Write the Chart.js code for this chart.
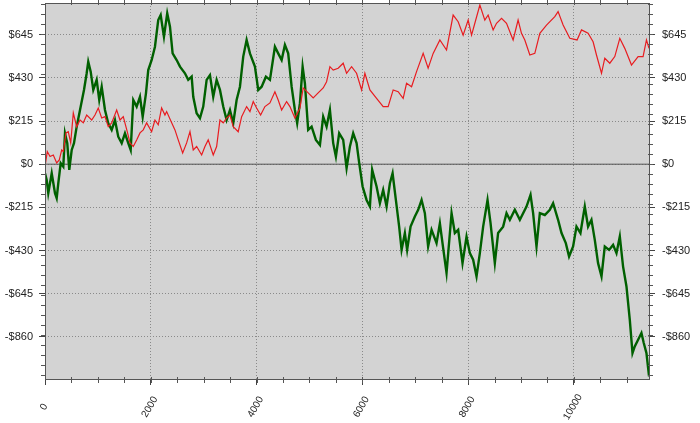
<!DOCTYPE html>
<html>
<head>
<meta charset="utf-8">
<script src="https://cdn.jsdelivr.net/npm/chart.js@4"></script>
<style>
  html, body { margin: 0; padding: 0; background: #fff; }
  #wrap { width: 700px; height: 423px; }
</style>
</head>
<body>
<div id="wrap"><canvas id="grafico"></canvas></div>
<script>
// datos
const redX = [0,43,95,157,221,270,316,346,397,440,486,535,599,662,724,788,883,945,1007,1072,1134,1196,1261,1355,1418,1480,1555,1607,1669,1733,1796,1858,1922,2016,2079,2141,2205,2268,2300,2395,2457,2519,2603,2678,2741,2803,2867,2962,3024,3086,3181,3245,3308,3370,3434,3497,3559,3653,3718,3812,3875,3937,4001,4077,4158,4253,4347,4409,4474,4568,4631,4725,4820,4882,4976,5071,5165,5260,5324,5387,5449,5543,5638,5702,5797,5891,5986,6048,6143,6269,6394,6488,6583,6677,6772,6836,6931,7025,7150,7244,7339,7466,7592,7717,7812,7906,8001,8065,8127,8222,8316,8378,8473,8537,8632,8726,8851,8945,9009,9072,9167,9261,9356,9482,9639,9701,9796,9923,10060,10144,10268,10363,10427,10522,10584,10679,10773,10868,10962,11089,11214,11308,11372,11421];
const redY = [-12,63,38,46,6,21,71,63,156,162,106,255,187,220,206,245,220,245,280,230,237,187,206,270,220,237,162,106,88,121,156,171,206,162,220,196,280,245,262,206,171,121,56,106,162,71,88,46,88,121,46,88,220,206,230,245,187,162,237,287,262,312,280,245,287,305,361,320,270,312,287,230,280,380,355,330,355,380,411,486,469,478,503,453,486,453,370,453,370,328,287,287,370,361,328,403,386,461,552,478,552,619,569,743,710,643,718,643,702,793,718,743,669,702,727,702,619,718,652,619,544,552,652,693,735,760,693,627,619,669,652,610,544,453,528,503,536,627,577,494,536,536,619,577];

const greenX = [0,32,62,127,189,221,251,297,346,378,421,459,505,548,599,662,737,788,818,864,913,977,1026,1072,1134,1196,1261,1323,1385,1450,1512,1574,1620,1669,1733,1796,1847,1909,1952,2017,2079,2141,2187,2249,2311,2363,2413,2489,2552,2646,2708,2773,2803,2867,2930,2992,3056,3119,3181,3245,3308,3370,3434,3497,3559,3623,3686,3748,3812,3875,3969,4032,4096,4177,4253,4347,4409,4474,4536,4598,4663,4725,4768,4820,4871,4914,4976,5041,5122,5198,5260,5324,5387,5449,5500,5562,5638,5702,5765,5827,5891,5941,6005,6080,6143,6186,6269,6332,6394,6458,6521,6572,6634,6696,6742,6804,6847,6912,6993,7056,7120,7182,7244,7309,7403,7466,7541,7592,7687,7749,7812,7894,7970,8033,8095,8159,8222,8284,8367,8424,8505,8567,8662,8726,8789,8883,8978,9104,9180,9229,9293,9356,9450,9545,9607,9701,9766,9847,9909,9985,10049,10124,10206,10268,10332,10395,10457,10522,10584,10665,10741,10805,10868,10930,10994,11057,11108,11151,11214,11277,11321,11372,11421];
const greenY = [-45,-78,-144,-45,-144,-169,-95,5,-12,154,105,-28,71,105,187,270,370,453,511,461,370,420,320,386,270,204,171,220,137,105,154,105,71,320,287,336,237,353,469,519,585,718,743,635,752,685,552,519,486,453,420,436,336,254,229,287,420,444,336,420,370,287,220,270,204,320,386,536,619,552,486,370,386,436,420,585,552,519,594,552,386,270,204,304,486,403,171,187,121,96,237,187,270,105,38,154,121,-20,88,154,105,5,-111,-178,-211,-28,-111,-194,-128,-211,-95,-45,-178,-311,-427,-343,-427,-311,-261,-227,-178,-244,-410,-327,-393,-294,-443,-542,-244,-343,-327,-493,-361,-443,-476,-559,-443,-311,-178,-294,-493,-343,-311,-244,-277,-227,-277,-211,-153,-244,-410,-244,-253,-227,-194,-277,-343,-393,-460,-410,-311,-343,-211,-311,-277,-377,-493,-559,-410,-427,-402,-443,-360,-510,-609,-775,-941,-908,-874,-841,-891,-941,-1057];

const ceroX = [0, 11420];
const ceroY = [0, 0];

const yTicks = [-860, -645, -430, -215, 0, 215, 430, 645];
const xTicks = [0, 2000, 4000, 6000, 8000, 10000];

const yMin = -1070, yMax = 803;
const xMin = 0, xMax = 11420;

function puntos(xs, ys) {
    return xs.map((x, i) => ({ x: x, y: ys[i] }));
}

function dinero(v) {
    return v < 0 ? '-$' + Math.abs(v) : '$' + v;
}

//fondo gris, marcas menores y etiquetas x giradas
const fondoPlugin = {
    id: 'fondo',
    beforeDraw(chart) {
        const a = chart.chartArea;
        const ctx = chart.ctx;
        ctx.save();
        ctx.fillStyle = '#d3d3d3';
        ctx.fillRect(a.left, a.top, a.right - a.left, a.bottom - a.top);
        ctx.restore();
    },
    afterDraw(chart) {
        const a = chart.chartArea;
        const ctx = chart.ctx;
        const ys = chart.scales.y;
        const xs = chart.scales.x;
        ctx.save();
        ctx.strokeStyle = '#555';
        ctx.lineWidth = 1;
        ctx.beginPath();
        for (let v = -1050; v <= yMax; v += 50) {
            const py = Math.round(ys.getPixelForValue(v)) + 0.5;
            ctx.moveTo(a.left - 4, py); ctx.lineTo(a.left + 1, py);
            ctx.moveTo(a.right - 1, py); ctx.lineTo(a.right + 4, py);
        }
        for (let v = 500; v <= xMax; v += 500) {
            const px = Math.round(xs.getPixelForValue(v)) + 0.5;
            ctx.moveTo(px, a.bottom - 2); ctx.lineTo(px, a.bottom + 4);
            ctx.moveTo(px, a.top - 3); ctx.lineTo(px, a.top + 2);
        }
        ctx.stroke();
        ctx.strokeRect(Math.round(a.left) + 0.5, Math.round(a.top) + 0.5,
            Math.round(a.right - a.left), Math.round(a.bottom - a.top));

        //etiquetas del eje x
        ctx.fillStyle = '#222';
        ctx.font = '10px "Liberation Sans", Arial, sans-serif';
        ctx.textAlign = 'center';
        ctx.textBaseline = 'middle';
        xTicks.forEach(v => {
            const px = xs.getPixelForValue(v) - 1;
            ctx.save();
            ctx.translate(px, a.bottom + 28);
            ctx.rotate(-Math.PI / 3);
            ctx.fillText(String(v), 0, 0);
            ctx.restore();
        });
        ctx.restore();
    }
};

const fuente = { family: 'Liberation Sans, Arial, sans-serif', size: 11 };

const ctx = document.getElementById('grafico').getContext('2d');

function sinRelleno(s) {
    s.paddingTop = 0;
    s.paddingBottom = 0;
    s.paddingLeft = 0;
    s.paddingRight = 0;
}

const config = {
    type: 'line',
    data: {
        datasets: [
            {
                data: puntos(redX, redY),
                borderColor: 'rgb(232,28,32)',
                borderWidth: 1.2,
                pointRadius: 0,
                tension: 0,
            },
            {
                data: puntos(greenX, greenY),
                borderColor: '#006000',
                borderWidth: 2.4,
                pointRadius: 0,
                tension: 0,
            },
            {
                data: puntos(ceroX, ceroY),
                borderColor: '#555',
                borderWidth: 1,
                pointRadius: 0,
            },
        ],
    },
    options: {
        responsive: true,
        maintainAspectRatio: false,
        animation: false,
        layout: { padding: { top: 3, left: 0, right: 0, bottom: 0 } },
        plugins: { legend: { display: false }, tooltip: { enabled: false } },
        scales: {
            x: {
                type: 'linear',
                min: xMin,
                max: xMax,
                afterBuildTicks: (s) => { s.ticks = xTicks.map(v => ({ value: v })); },
                afterFit: (s) => { s.height = 44; sinRelleno(s); },
                grid: { color: '#8a8a8a', tickColor: '#444', tickLength: 6 },
                border: { display: false, dash: [1, 2] },
                ticks: { display: false },
            },
            y: {
                position: 'left',
                min: yMin,
                max: yMax,
                afterBuildTicks: (s) => { s.ticks = yTicks.map(v => ({ value: v })); },
                afterFit: (s) => { s.width = 45; sinRelleno(s); },
                grid: { color: '#8a8a8a', tickColor: '#444', tickLength: 6 },
                border: { display: false, dash: [1, 2] },
                ticks: { font: fuente, color: '#222', padding: 6, callback: dinero },
            },
            y2: {
                position: 'right',
                min: yMin,
                max: yMax,
                afterBuildTicks: (s) => { s.ticks = yTicks.map(v => ({ value: v })); },
                afterFit: (s) => { s.width = 51; sinRelleno(s); },
                grid: { drawOnChartArea: false, tickColor: '#444', tickLength: 6 },
                border: { display: false },
                ticks: { font: fuente, color: '#222', padding: 7, callback: dinero },
            },
        },
    },
    plugins: [fondoPlugin],
};

const miGrafico = new Chart(ctx, config);
</script>
</body>
</html>
